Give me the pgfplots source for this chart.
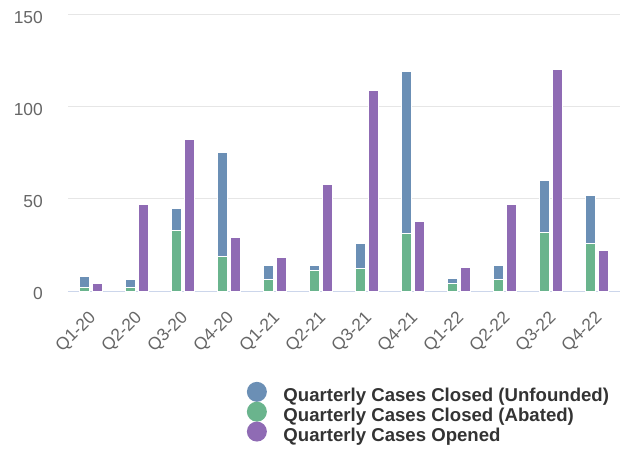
\documentclass[border=0pt]{standalone}
\usepackage{pgfplots}
\usepackage{pgfplotstable}
\pgfplotsset{compat=1.18}
\usepackage{fontspec}
\setmainfont{Liberation Sans}
\definecolor{ublue}{RGB}{107,143,181}
\definecolor{ugreen}{RGB}{106,180,141}
\definecolor{upurple}{RGB}{143,107,180}
\definecolor{gridc}{RGB}{230,230,230}
\definecolor{axisc}{RGB}{204,214,235}
\definecolor{tickc}{RGB}{102,102,102}
\definecolor{legc}{RGB}{51,51,51}
\pgfplotsset{circleleg/.style={legend image code/.code={\fill[##1,draw=none] (10bp,0.36em) circle (10bp);}}}
\pgfplotstableread{
x abated unfounded opened
0 2 6 4
1 2 4 47
2 33 12 82
3 19 56 29
4 6 8 18
5 11 3 58
6 12 14 109
7 31 88 38
8 4 3 13
9 6 8 47
10 32 28 120
11 26 26 22
}\data
\begin{document}
\begin{tikzpicture}
\path[use as bounding box] (-68bp,-159bp) rectangle (560bp,291bp);
\begin{axis}[
  at={(0,0)}, anchor=south west,
  scale only axis, width=552bp, height=276.3bp,
  xmin=-0.5, xmax=11.5, ymin=0, ymax=150,
  ybar stacked, bar width=10bp, bar shift=-6.2bp,
  axis x line*=bottom, axis y line*=left,
  y axis line style={draw=none},
  x axis line style={axisc, line width=1bp},
  major tick length=0pt,
  ymajorgrids, grid style={gridc, line width=1bp},
  ytick={0,50,100,150},
  xtick={0,...,11},
  xticklabels={Q1-20,Q2-20,Q3-20,Q4-20,Q1-21,Q2-21,Q3-21,Q4-21,Q1-22,Q2-22,Q3-22,Q4-22},
  /pgf/number format/assume math mode=true,
  yticklabel style={font=\fontsize{17.4bp}{20bp}\selectfont, text=tickc, anchor=east, inner sep=0pt, xshift=-25bp, yshift=-2.5bp},
  xticklabel style={font=\fontsize{17.4bp}{20bp}\selectfont, text=tickc, xshift=-3bp, yshift=-18.5bp, rotate=45, anchor=north east, inner sep=0pt},
]
\addplot[fill=ugreen, draw=white, line width=1bp] table[x=x, y=abated] {\data};
\addplot[fill=ublue, draw=white, line width=1bp] table[x=x, y=unfounded] {\data};
\end{axis}
\begin{axis}[
  at={(0,0)}, anchor=south west,
  scale only axis, width=552bp, height=276.3bp,
  xmin=-0.5, xmax=11.5, ymin=0, ymax=150,
  axis lines=none, xtick=\empty, ytick=\empty,
  ybar, bar width=10bp,
  legend style={draw=none, fill=none, at={(axis description cs:0.3237,-0.328)}, anchor=north west,
    inner sep=0pt, row sep=-1.2bp, font=\bfseries\fontsize{18.6bp}{20bp}\selectfont, text=legc,
    nodes={inner sep=0pt}, /tikz/every odd column/.append style={column sep=16.6bp}},
  legend cell align=left,
]
\addlegendimage{fill=ublue, circleleg}
\addlegendentry{Quarterly Cases Closed (Unfounded)}
\addlegendimage{fill=ugreen, circleleg}
\addlegendentry{Quarterly Cases Closed (Abated)}
\addplot[fill=upurple, draw=white, line width=1bp, bar shift=6.2bp, circleleg] table[x=x, y=opened] {\data};
\addlegendentry{Quarterly Cases Opened}
\end{axis}
\end{tikzpicture}
\end{document}
